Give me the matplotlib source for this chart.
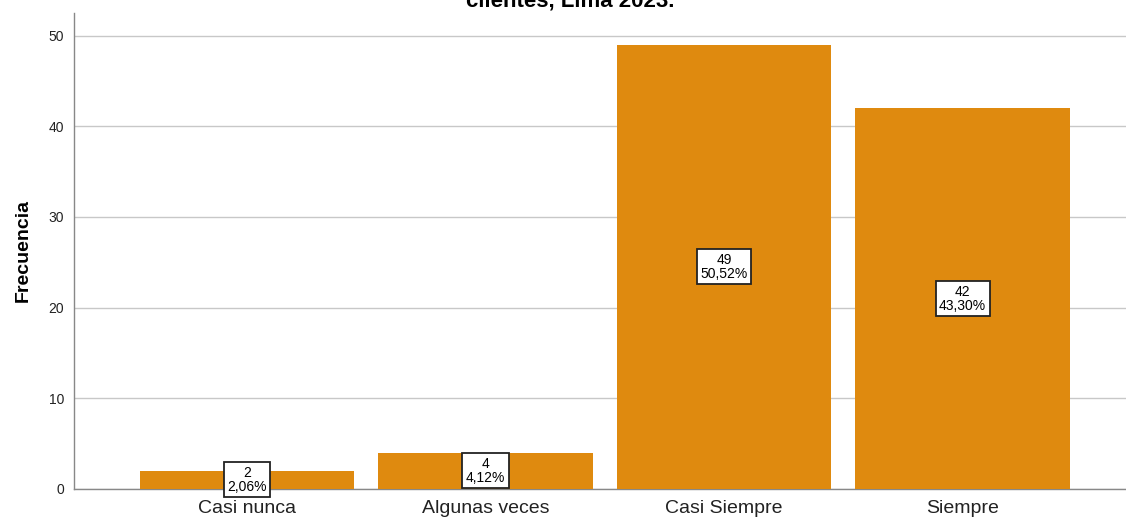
import matplotlib
matplotlib.use("Agg")
import matplotlib.pyplot as plt

categories = ["Casi nunca", "Algunas veces", "Casi Siempre", "Siempre"]
counts = [2, 4, 49, 42]
percent_labels = ["2,06%", "4,12%", "50,52%", "43,30%"]
yticks = [0, 10, 20, 30, 40, 50]
title_text = "clientes, Lima 2023."

plt.rcParams['font.family'] = ['Liberation Sans', 'DejaVu Sans']

fig = plt.figure(figsize=(11.26, 5.17), dpi=100)
ax = fig.add_axes([74/1126, 28/517, 1 - 74/1126, (489-13)/517])

x = list(range(len(categories)))
ax.bar(x, counts, width=0.9, color='#DF8A0F', zorder=3)

for xi, c, p in zip(x, counts, percent_labels):
    ax.text(xi, c/2, f"{c}\n{p}", ha='center', va='center', fontsize=10,
            linespacing=1.0, zorder=5,
            bbox=dict(boxstyle='square,pad=0.25', facecolor='white', edgecolor='#222222', linewidth=1.3))

ax.set_xlim(-0.725, 3.685)
ax.set_ylim(0, 52.5)
ax.set_yticks(yticks)
ax.set_xticks(x)
ax.set_xticklabels(categories, fontsize=14, color='#222222')
ax.tick_params(axis='y', length=0, labelsize=10, colors='#222222', pad=7)
ax.tick_params(axis='x', length=0, pad=8)
ax.yaxis.grid(True, color='#c8c8c8', linewidth=1, zorder=0)
for s in ['top', 'right']:
    ax.spines[s].set_visible(False)
for s in ['left', 'bottom']:
    ax.spines[s].set_color('#888888')
    ax.spines[s].set_linewidth(1)
ax.set_ylabel("Frecuencia", fontsize=14, fontweight='bold', labelpad=12)

fig.text(570/1126, (517-6)/517, title_text, ha='center', va='baseline',
         fontsize=16, fontweight='bold')

fig.savefig("out.png", dpi=100)
